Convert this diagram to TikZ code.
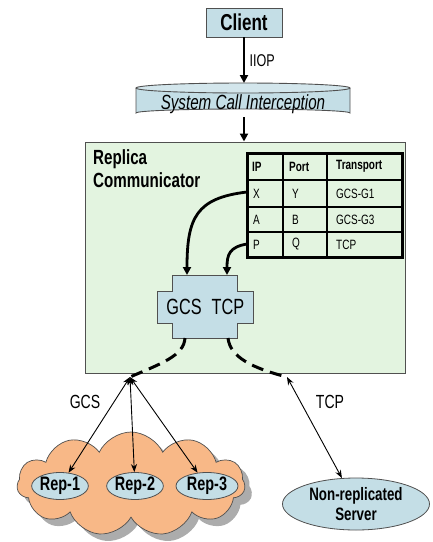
\documentclass[tikz,border=0pt]{standalone}
\usepackage{fontspec}
\setmainfont[FakeStretch=0.74]{Liberation Sans}
\usetikzlibrary{shapes.symbols,shapes.geometric,arrows.meta}
\definecolor{lblue}{HTML}{C4DEE6}
\definecolor{lgreen}{HTML}{E3F4E0}
\definecolor{cloudor}{HTML}{F8B887}
\definecolor{edgegray}{HTML}{505050}
\tikzset{
  bluebox/.style={draw=edgegray, fill=lblue, line width=0.8pt},
  bigarrow/.style={line width=2.6pt, -{Triangle[length=8pt,width=8pt]}},
  curvearrow/.style={line width=2.8pt, -{Triangle[length=8pt,width=8pt]}},
  dashline/.style={line width=3pt, dash pattern=on 12pt off 7pt},
  thinarrow/.style={line width=0.9pt, {Stealth[length=8pt,width=6pt]}-{Stealth[length=8pt,width=6pt]}},
  repell/.style={ellipse, draw=edgegray, fill=lblue, line width=0.8pt, inner sep=0pt, font=\fontsize{19.5}{21}\selectfont\bfseries},
  cell/.style={anchor=west, inner sep=0pt, font=\fontsize{13.5}{15}\selectfont},
  hcell/.style={cell, font=\fontsize{13.5}{15}\selectfont\bfseries},
}
\begin{document}
\begin{tikzpicture}[x=1pt,y=-1pt]
\useasboundingbox (0,0) rectangle (433,542);
% Client
\node[bluebox, minimum width=76pt, minimum height=29pt, font=\fontsize{23}{25}\selectfont\bfseries] (client) at (244,22.5) {Client};
% System Call Interception cylinder
\fill[lblue] (136,88) -- (136,113) arc[start angle=180,end angle=360,x radius=107,y radius=4] -- (350,88) -- cycle;
\draw[edgegray, line width=0.9pt] (136,88) -- (136,113) arc[start angle=180,end angle=360,x radius=107,y radius=4] -- (350,88);
\draw[edgegray, fill=lblue!75!white, line width=0.9pt] (243,88) ellipse[x radius=107,y radius=5];
\node[font=\fontsize{20.5}{22}\selectfont\itshape, inner sep=0pt] (sci) at (243,104) {System Call Interception};
\coordinate (scitop) at (244,83);
\coordinate (scibot) at (244,117);
% Replica communicator box
\node[draw=edgegray, fill=lgreen, line width=1pt, minimum width=320pt, minimum height=231pt] (rc) at (245,257.5) {};
\node[anchor=north west, align=left, inner sep=0pt, font=\fontsize{20.5}{23}\selectfont\bfseries] (rclabel) at (93,149) {Replica\\Communicator};
% arrows top
\draw[bigarrow] (client.south) -- (scitop) node[midway, right, xshift=1pt, font=\fontsize{17}{19}\selectfont] (iiop) {IIOP};
\draw[bigarrow] (scibot) -- (rc.north -| scibot);
% table
\draw[line width=1.2pt] (283,153) -- (283,257) (327,153) -- (327,257)
  (247,180) -- (402,180) (247,207) -- (402,207) (247,232) -- (402,232);
\draw[line width=3pt] (247,153) rectangle (402,257);
\node[hcell] (hip) at (252,166.5) {IP};
\node[hcell] (hport) at (289,166.5) {Port};
\node[hcell] (htr) at (336,166.5) {Transport};
\node[cell] (c11) at (253,193.5) {X};
\node[cell] (c12) at (292,193.5) {Y};
\node[cell] (c13) at (336,193.5) {GCS-G1};
\node[cell] (c21) at (253,219.5) {A};
\node[cell] (c22) at (292,219.5) {B};
\node[cell] (c23) at (336,219.5) {GCS-G3};
\node[cell] (c31) at (253,244.5) {P};
\node[cell] (c32) at (292,244.5) {Q};
\node[cell] (c33) at (336,244.5) {TCP};
\coordinate (rowx) at (247,192);
\coordinate (rowp) at (247,244);
% GCS/TCP cross shape
\draw[bluebox] (172,275) -- (237,275) -- (237,291) -- (253,291) -- (253,323) -- (237,323) -- (237,338) -- (172,338) -- (172,323) -- (157,323) -- (157,291) -- (172,291) -- cycle;
\node[font=\fontsize{22}{24}\selectfont, inner sep=0pt] (gcs) at (184,307) {GCS};
\node[font=\fontsize{22}{24}\selectfont, inner sep=0pt] (tcp) at (228,307) {TCP};
\coordinate (gcsin) at (187,275);
\coordinate (tcpin) at (227,275);
\coordinate (gcsout) at (185,338);
\coordinate (tcpout) at (228,338);
\draw[curvearrow] (rowx) .. controls (196,198) and (187,218) .. (gcsin);
\draw[curvearrow] (rowp) .. controls (229,247) and (227,255) .. (tcpin);
% hubs
\coordinate (hub1) at (130,377);
\coordinate (hub2) at (287,377);
\draw[dashline] (gcsout) .. controls (184,356) and (160,364) .. (hub1);
\draw[dashline] (tcpout) .. controls (230,357) and (252,368) .. (hub2);
% cloud
\node[cloud, cloud puffs=11, cloud puff arc=130, aspect=2.3, fill=gray!65, minimum width=228pt, minimum height=104pt, inner sep=0pt] (cloudsh) at (138,491) {};
\node[cloud, cloud puffs=11, cloud puff arc=130, aspect=2.3, draw=edgegray, fill=cloudor, line width=0.7pt, minimum width=228pt, minimum height=104pt, inner sep=0pt] (cloud) at (131,484) {};
% reps
\node[repell, minimum width=56pt, minimum height=27pt] (rep1) at (60,486) {Rep-1};
\node[repell, minimum width=52pt, minimum height=27pt] (rep2) at (135,486) {Rep-2};
\node[repell, minimum width=62pt, minimum height=27pt] (rep3) at (207,486) {Rep-3};
\node[ellipse, draw=edgegray, fill=lblue, line width=0.8pt, minimum width=147pt, minimum height=52pt, inner sep=0pt, align=center, font=\fontsize{18}{20}\selectfont\bfseries] (server) at (356,504) {Non-replicated\\Server};
% thin arrows
\draw[thinarrow] (hub1) -- (rep1);
\draw[thinarrow] (hub1) -- (rep2);
\draw[thinarrow] (hub1) -- (rep3);
\draw[thinarrow] (hub2) -- (server);
\node[font=\fontsize{19}{21}\selectfont] (glabel) at (85,402) {GCS};
\node[font=\fontsize{19}{21}\selectfont] (tlabel) at (330,402) {TCP};
\end{tikzpicture}
\end{document}
